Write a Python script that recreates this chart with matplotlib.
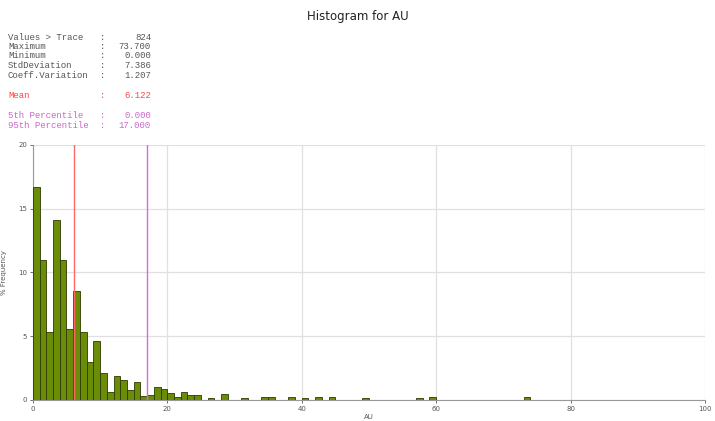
import matplotlib.pyplot as plt

# histogram of AU, bin width 1, heights in % frequency
bin_left = [0, 1, 2, 3, 4, 5, 6, 7, 8, 9, 10, 11, 12, 13, 14, 15, 16, 17, 18, 19,
            20, 21, 22, 23, 24, 26, 28, 31, 34, 35, 38, 40, 42, 44, 49, 57, 59, 73]
pct_freq = [16.7, 10.95, 5.3, 14.1, 10.95, 5.56, 8.54, 5.36, 3.0, 4.6,
            2.1, 0.64, 1.9, 1.54, 0.8, 1.41, 0.33, 0.41, 1.05, 0.85,
            0.55, 0.23, 0.64, 0.41, 0.41, 0.12, 0.49, 0.12, 0.24, 0.24,
            0.24, 0.12, 0.24, 0.24, 0.12, 0.12, 0.24, 0.24]

mean_val = 6.122
p95_val = 17.0

stat_names = ['Values > Trace', 'Maximum', 'Minimum', 'StdDeviation', 'Coeff.Variation']
stat_values = ['824', '73.700', '0.000', '7.386', '1.207']

fig = plt.figure(figsize=(7.15, 4.21), dpi=100)
ax = fig.add_axes([0.046, 0.050, 0.940, 0.606])

ax.bar(bin_left, pct_freq, width=1, align='edge', color='#6b8c06',
       edgecolor='#2e3a00', linewidth=0.6, zorder=3)
ax.axvline(mean_val, color='#ff6666', linewidth=1, zorder=4)
ax.axvline(p95_val, color='#dd66dd', linewidth=1, zorder=4)

ax.set_xlim(0, 100)
ax.set_ylim(0, 20)
ax.set_xticks([0, 20, 40, 60, 80, 100])
ax.set_yticks([0, 5, 10, 15, 20])
ax.grid(True, color='#e0e0e0', linewidth=0.9, zorder=0)
for s in ['top', 'right']:
    ax.spines[s].set_visible(False)
for s in ['left', 'bottom']:
    ax.spines[s].set_color('#999999')
ax.tick_params(labelsize=5, colors='#555555', length=2, width=0.6, pad=2)
ax.set_ylabel('% Frequency', fontsize=5, color='#555555', labelpad=8)
ax.set_xlabel('AU', fontsize=5, color='#555555', labelpad=2)

fig.text(0.5, 0.96, 'Histogram for AU', ha='center', va='center',
         fontsize=8.5, color='#222222')

# statistics text block
mono = 'Liberation Mono'
y0 = 37
for i, (n, v) in enumerate(zip(stat_names, stat_values)):
    y = 1 - (y0 + i * 9.5) / 421
    fig.text(8 / 715, y, n, fontsize=6.5, family=mono, color='#555555', va='center')
    fig.text(100 / 715, y, ':', fontsize=6.5, family=mono, color='#555555', va='center')
    fig.text(151 / 715, y, v, fontsize=6.5, family=mono, color='#555555', va='center', ha='right')

extra = [('Mean', '6.122', 96, '#ff4444'),
         ('5th Percentile', '0.000', 116, '#cc66cc'),
         ('95th Percentile', '17.000', 126, '#cc66cc')]
for n, v, yp, c in extra:
    y = 1 - yp / 421
    fig.text(8 / 715, y, n, fontsize=6.5, family=mono, color=c, va='center')
    fig.text(100 / 715, y, ':', fontsize=6.5, family=mono, color=c, va='center')
    fig.text(151 / 715, y, v, fontsize=6.5, family=mono, color=c, va='center', ha='right')

plt.savefig('out.png', dpi=100)
